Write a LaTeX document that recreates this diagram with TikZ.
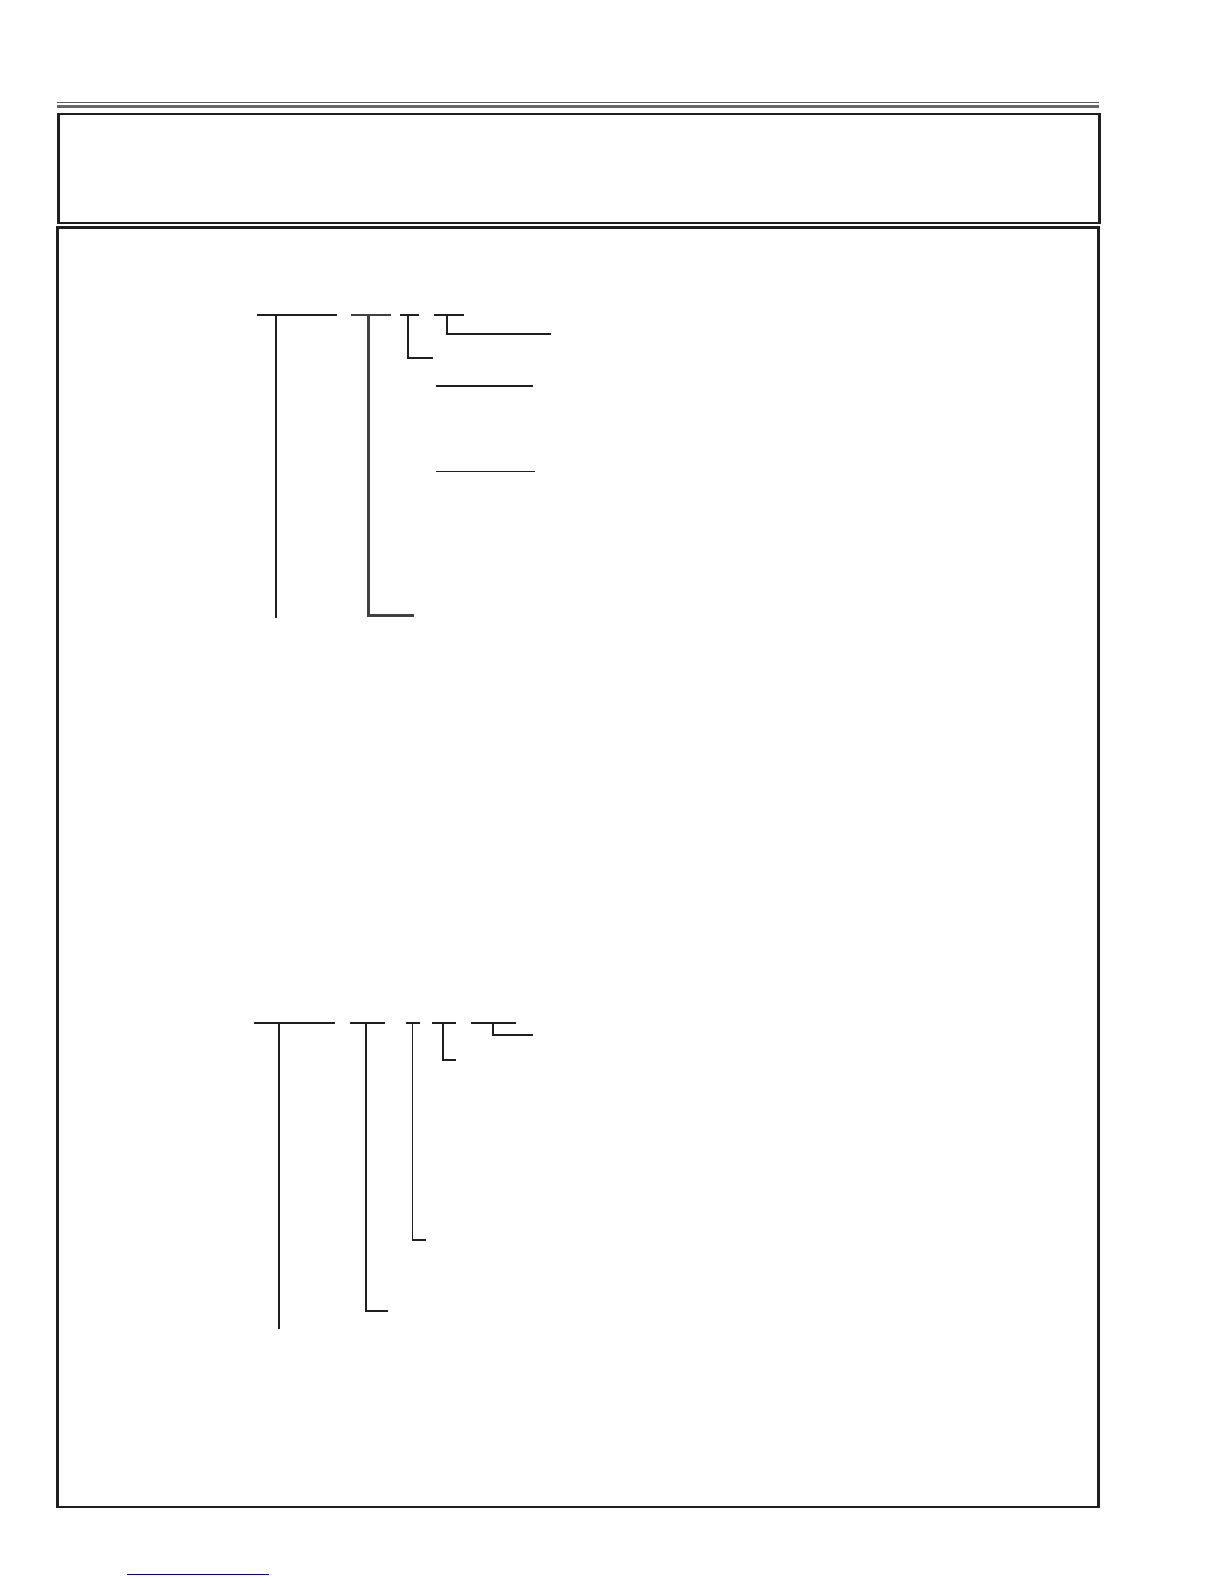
\documentclass[tikz,border=0pt]{standalone}
\usepackage{xcolor}
\usepackage{tikz}
\usetikzlibrary{positioning, calc}

\begin{document}
\begin{tikzpicture}[x=0.5bp, y=-0.5bp]

		\tikzstyle{frame}=[draw=black!88, line width=1.3bp]
		\tikzstyle{branch}=[draw=black!88, line width=1.1bp]
		\tikzstyle{thinbranch}=[branch, line width=0.7bp]
		\tikzstyle{greybranch}=[branch, draw=black!75]
		
		\useasboundingbox (0,0) rectangle (1224,1584);
		
		% header rules
		\coordinate (rule1l) at (57,102.5);
		\coordinate (rule1r) at (1099,102.5);
		\coordinate (rule2l) at (57,106.3);
		\coordinate (rule2r) at (1099,106.3);
		\draw [draw=black!65, line width=0.6bp] (rule1l) -- (rule1r);
		\draw [draw=black!60, line width=1.8bp] (rule2l) -- (rule2r);
		
		% frames
		\coordinate (box1nw) at (58.5,114);
		\coordinate (box1se) at (1099.5,223);
		\coordinate (box2nw) at (57.5,227.5);
		\coordinate (box2se) at (1098.5,1507);
		\draw [frame] (box1nw) rectangle (box1se);
		\draw [frame] (box2nw) rectangle (box2se);
		
		% upper tree
		\coordinate (a1l) at (256.5,315);
		\coordinate (a1r) at (336.5,315);
		\coordinate (a1t) at (276,315);
		\coordinate (a1b) at (276,618);
		\coordinate (b1l) at (351,315);
		\coordinate (b1r) at (391,315);
		\coordinate (b1t) at (368.5,315);
		\coordinate (b1e) at (413.5,615.5);
		\coordinate (c1l) at (400,315);
		\coordinate (c1r) at (419,315);
		\coordinate (c1t) at (408,315);
		\coordinate (c1e) at (433,358);
		\coordinate (d1l) at (433.5,315);
		\coordinate (d1r) at (464,315);
		\coordinate (d1t) at (447,315);
		\coordinate (d1e) at (551,334);
		
		\draw [branch] (a1l) -- (a1r);
		\draw [branch] (a1t) -- (a1b);
		\draw [greybranch] (b1l) -- (b1r);
		\draw [greybranch] (b1t) |- (b1e);
		\draw [branch] (c1l) -- (c1r);
		\draw [branch] (c1t) |- (c1e);
		\draw [branch] (d1l) -- (d1r);
		\draw [branch] (d1t) |- (d1e);
		
		\coordinate (u1l) at (436,386);
		\coordinate (u1r) at (533,386);
		\coordinate (u2l) at (436,471.5);
		\coordinate (u2r) at (535,471.5);
		\draw [thinbranch] (u1l) -- (u1r);
		\draw [thinbranch] (u2l) -- (u2r);
		
		% lower tree
		\coordinate (a2l) at (254,1023);
		\coordinate (a2r) at (335,1023);
		\coordinate (a2t) at (279,1023);
		\coordinate (a2b) at (279,1329);
		\coordinate (b2l) at (350,1023);
		\coordinate (b2r) at (385,1023);
		\coordinate (b2t) at (366,1023);
		\coordinate (b2e) at (388,1311);
		\coordinate (c2l) at (406,1023);
		\coordinate (c2r) at (420,1023);
		\coordinate (c2t) at (412.5,1023);
		\coordinate (c2e) at (426,1240);
		\coordinate (d2l) at (432,1023);
		\coordinate (d2r) at (455.5,1023);
		\coordinate (d2t) at (443,1023);
		\coordinate (d2e) at (455.5,1060);
		\coordinate (e2l) at (471,1023);
		\coordinate (e2r) at (516,1023);
		\coordinate (e2t) at (493,1023);
		\coordinate (e2e) at (533,1035);
		
		\draw [branch] (a2l) -- (a2r);
		\draw [branch] (a2t) -- (a2b);
		\draw [branch] (b2l) -- (b2r);
		\draw [branch] (b2t) |- (b2e);
		\draw [branch] (c2l) -- (c2r);
		\draw [thinbranch] (c2t) |- (c2e);
		\draw [branch] (d2l) -- (d2r);
		\draw [branch] (d2t) |- (d2e);
		\draw [branch] (e2l) -- (e2r);
		\draw [branch] (e2t) |- (e2e);
		
		% link at the foot
		\coordinate (linkl) at (127,1574.5);
		\coordinate (linkr) at (269,1574.5);
		\draw [draw=blue!55!black, line width=0.65bp] (linkl) -- (linkr);
		
\end{tikzpicture}
\end{document}
